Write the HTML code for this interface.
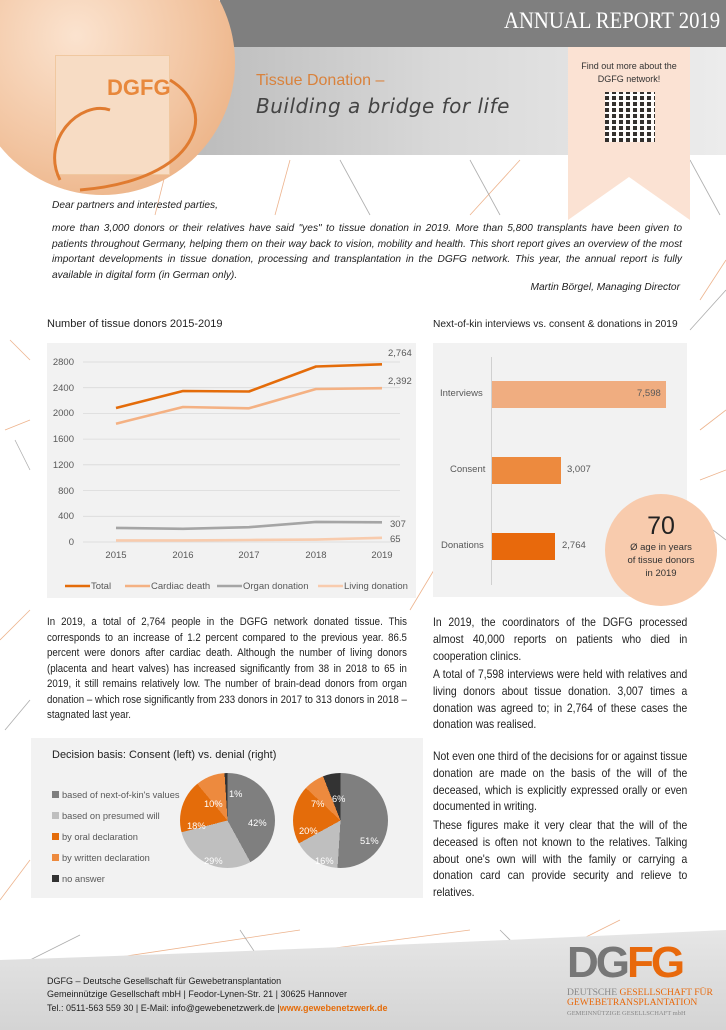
<!DOCTYPE html>
<html><head><meta charset="utf-8"><style>
*{margin:0;padding:0;box-sizing:border-box}
body{width:726px;height:1030px;position:relative;overflow:hidden;background:#fff;font-family:"Liberation Sans",sans-serif;color:#222}
.a{position:absolute}
.p{font-size:11px;line-height:15.5px;text-align:justify;color:#222;transform:scaleX(0.88);transform-origin:left top}
.r{font-size:11.8px;line-height:16.8px}
.it{font-style:italic;font-size:10.2px;line-height:15.5px;color:#222}
.t{font-size:11px;color:#222;white-space:nowrap}
</style></head><body>
<svg class="a" style="left:0;top:0" width="726" height="1030">
<g stroke="#e8a070" stroke-width="0.8" fill="none" opacity="0.8">
<path d="M170 155 L155 215"/><path d="M290 160 L275 215"/><path d="M520 160 L470 215"/><path d="M700 300 L726 260"/><path d="M700 430 L726 410"/><path d="M10 340 L30 360"/><path d="M5 430 L30 420"/><path d="M0 640 L30 610"/><path d="M410 610 L440 560"/><path d="M0 900 L30 860"/><path d="M100 960 L300 930"/><path d="M320 950 L470 930"/><path d="M560 950 L620 920"/><path d="M700 480 L726 470"/>
</g>
<g stroke="#999" stroke-width="0.8" fill="none" opacity="0.8">
<path d="M340 160 L370 215"/><path d="M470 160 L500 215"/><path d="M690 160 L720 215"/><path d="M690 330 L726 290"/><path d="M15 440 L30 470"/><path d="M700 520 L726 540"/><path d="M30 960 L80 935"/><path d="M240 930 L260 960"/><path d="M500 930 L530 960"/><path d="M5 730 L30 700"/>
</g>
</svg>
<div class="a" style="left:160px;top:47px;width:566px;height:108px;background:linear-gradient(90deg,#b8b8b8,#d9d9d9 50%,#ececec)"></div>
<div class="a" style="left:220px;top:0;width:506px;height:47px;background:#7f7f7f"></div>
<div class="a" style="right:6px;top:8px;font-family:'Liberation Serif',serif;font-size:23px;color:#fff;white-space:nowrap;transform:scaleX(0.9);transform-origin:right top">ANNUAL REPORT 2019</div>
<div class="a" style="left:-30px;top:-70px;width:265px;height:265px;border-radius:50%;background:radial-gradient(circle at 40% 40%,#fbe3cf,#f2c4a0 55%,#e8a673)"></div>
<div class="a" style="left:55px;top:55px;width:115px;height:120px;background:#f7dcc4;border:1px solid #f0c8a0"></div>
<svg class="a" style="left:20px;top:40px" width="200" height="170"><path d="M40 140 C20 100 60 60 90 70 M150 40 C200 70 180 140 60 150" stroke="#e07b30" stroke-width="3" fill="none"/></svg>
<div class="a" style="left:107px;top:75px;font-size:22px;font-weight:bold;color:#e8883c">DGFG</div>
<div class="a" style="left:256px;top:72px;font-size:16px;color:#d9823c">Tissue Donation –</div>
<div class="a" style="left:256px;top:94px;font-size:20px;font-style:italic;font-family:'DejaVu Sans',sans-serif;color:#444;letter-spacing:0.5px">Building a bridge for life</div>
<svg class="a" style="left:568px;top:47px" width="122" height="173"><polygon points="0,0 122,0 122,173 61,130 0,173" fill="#fbe2d3"/></svg>
<div class="a" style="left:568px;top:60px;width:122px;text-align:center;font-size:9px;line-height:13px;color:#333">Find out more about the<br>DGFG network!</div>
<div class="a" style="left:605px;top:92px;width:50px;height:50px;background:repeating-linear-gradient(90deg,#111 0 4px,#fff 4px 7px),#111;opacity:.85"></div>
<div class="a" style="left:605px;top:92px;width:50px;height:50px;background:repeating-linear-gradient(0deg,transparent 0 4px,#fff 4px 6px)"></div>
<div class="a it" style="left:52px;top:198px">Dear partners and interested parties,</div>
<div class="a it" style="left:52px;top:221px;width:630px;text-align:justify">more than 3,000 donors or their relatives have said "yes" to tissue donation in 2019. More than 5,800 transplants have been given to patients throughout Germany, helping them on their way back to vision, mobility and health. This short report gives an overview of the most important developments in tissue donation, processing and transplantation in the DGFG network. This year, the annual report is fully available in digital form (in German only).</div>
<div class="a it" style="left:400px;top:280px;width:280px;text-align:right">Martin Börgel, Managing Director</div>
<div class="a t" style="left:47px;top:318px">Number of tissue donors 2015-2019</div>
<div class="a" style="left:47px;top:343px;width:369px;height:255px;background:#f2f2f2"></div>
<svg class="a" style="left:0;top:0" width="726" height="1030" font-family="Liberation Sans" font-size="9.5" fill="#595959">
<g stroke="#d9d9d9" stroke-width="0.8"><path d="M83 542H400M83 516.3H400M83 490.6H400M83 464.8H400M83 439.1H400M83 413.4H400M83 387.7H400M83 362H400"/></g>
<g text-anchor="end"><text x="74" y="545">0</text><text x="74" y="519">400</text><text x="74" y="494">800</text><text x="74" y="468">1200</text><text x="74" y="442">1600</text><text x="74" y="416">2000</text><text x="74" y="391">2400</text><text x="74" y="365">2800</text></g>
<g text-anchor="middle"><text x="116" y="558">2015</text><text x="183" y="558">2016</text><text x="249" y="558">2017</text><text x="316" y="558">2018</text><text x="382" y="558">2019</text></g>
<g fill="none" stroke-width="2.6" stroke-linejoin="round">
<polyline stroke="#f8cbad" points="116,540.4 183,540.4 249,540 316,539.6 382,537.8"/>
<polyline stroke="#a5a5a5" points="116,527.9 183,528.8 249,527.2 316,521.9 382,522.3"/>
<polyline stroke="#f4b183" points="116,423.7 183,407 249,408.3 316,389 382,388.2"/>
<polyline stroke="#e46c0a" points="116,408 183,391 249,391.5 316,366.5 382,364.3"/>
</g>
<text x="388" y="356">2,764</text><text x="388" y="384">2,392</text><text x="390" y="527">307</text><text x="390" y="542">65</text>
<g stroke-width="2.6"><path d="M65 586H90" stroke="#e46c0a"/><path d="M125 586H150" stroke="#f4b183"/><path d="M217 586H242" stroke="#a5a5a5"/><path d="M318 586H343" stroke="#f8cbad"/></g>
<text x="91" y="589">Total</text><text x="151" y="589">Cardiac death</text><text x="243" y="589">Organ donation</text><text x="344" y="589">Living donation</text>
</svg>
<div class="a t" style="left:433px;top:319px;font-size:10.2px">Next-of-kin interviews vs. consent &amp; donations in 2019</div>
<div class="a" style="left:433px;top:343px;width:254px;height:254px;background:#f2f2f2"></div>
<div class="a" style="left:491px;top:357px;width:1px;height:228px;background:#d0d0d0"></div>
<div class="a" style="left:492px;top:381px;width:174px;height:27px;background:#f0ad80"></div>
<div class="a" style="left:492px;top:457px;width:69px;height:27px;background:#ed8a3e"></div>
<div class="a" style="left:492px;top:533px;width:63px;height:27px;background:#e8690c"></div>
<div class="a" style="font-size:9.5px;color:#595959;left:440px;top:388px">Interviews</div>
<div class="a" style="font-size:9.5px;color:#595959;left:450px;top:464px">Consent</div>
<div class="a" style="font-size:9.5px;color:#595959;left:441px;top:540px">Donations</div>
<div class="a" style="font-size:9.5px;color:#595959;left:637px;top:388px">7,598</div>
<div class="a" style="font-size:9.5px;color:#595959;left:567px;top:464px">3,007</div>
<div class="a" style="font-size:9.5px;color:#595959;left:562px;top:540px">2,764</div>
<div class="a" style="left:605px;top:494px;width:112px;height:112px;border-radius:50%;background:#f8cbad;text-align:center">
<div style="font-size:25px;color:#222;margin-top:18px">70</div>
<div style="font-size:9.5px;line-height:13px;color:#333">Ø age in years<br>of tissue donors<br>in 2019</div></div>
<div class="a p" style="left:47px;top:615px;width:409px">In 2019, a total of 2,764 people in the DGFG network donated tissue. This corresponds to an increase of 1.2 percent compared to the previous year. 86.5 percent were donors after cardiac death. Although the number of living donors (placenta and heart valves) has increased significantly from 38 in 2018 to 65 in 2019, it still remains relatively low. The number of brain-dead donors from organ donation – which rose significantly from 233 donors in 2017 to 313 donors in 2018 – stagnated last year.</div>
<div class="a p r" style="left:433px;top:614px;width:289px">In 2019, the coordinators of the DGFG processed almost 40,000 reports on patients who died in cooperation clinics.</div>
<div class="a p r" style="left:433px;top:666px;width:289px">A total of 7,598 interviews were held with relatives and living donors about tissue donation. 3,007 times a donation was agreed to; in 2,764 of these cases the donation was realised.</div>
<div class="a p r" style="left:433px;top:748px;width:289px">Not even one third of the decisions for or against tissue donation are made on the basis of the will of the deceased, which is explicitly expressed orally or even documented in writing.</div>
<div class="a p r" style="left:433px;top:817px;width:289px">These figures make it very clear that the will of the deceased is often not known to the relatives. Talking about one's own will with the family or carrying a donation card can provide security and relieve to relatives.</div>
<div class="a" style="left:31px;top:738px;width:392px;height:160px;background:#f2f2f2"></div>
<div class="a t" style="left:52px;top:749px">Decision basis: Consent (left) vs. denial (right)</div>
<div class="a" style="left:52px;top:785px;font-size:9.3px;line-height:21px;color:#595959">
<div><span style="display:inline-block;width:7px;height:7px;background:#7f7f7f;margin-right:3px"></span>based of next-of-kin's values</div>
<div><span style="display:inline-block;width:7px;height:7px;background:#bfbfbf;margin-right:3px"></span>based on presumed will</div>
<div><span style="display:inline-block;width:7px;height:7px;background:#e46c0a;margin-right:3px"></span>by oral declaration</div>
<div><span style="display:inline-block;width:7px;height:7px;background:#ed8a3e;margin-right:3px"></span>by written declaration</div>
<div><span style="display:inline-block;width:7px;height:7px;background:#333;margin-right:3px"></span>no answer</div></div>
<div class="a" style="left:180px;top:773px;width:95px;height:95px;border-radius:50%;background:conic-gradient(#7f7f7f 0 151.2deg,#bfbfbf 151.2deg 255.6deg,#e46c0a 255.6deg 320.4deg,#ed8a3e 320.4deg 356.4deg,#333 356.4deg)"></div>
<div class="a" style="left:293px;top:773px;width:95px;height:95px;border-radius:50%;background:conic-gradient(#7f7f7f 0 183.6deg,#bfbfbf 183.6deg 241.2deg,#e46c0a 241.2deg 313.2deg,#ed8a3e 313.2deg 338.4deg,#333 338.4deg)"></div>
<div class="a" style="font-size:9.3px;color:#fff;left:248px;top:818px">42%</div>
<div class="a" style="font-size:9.3px;color:#fff;left:204px;top:856px">29%</div>
<div class="a" style="font-size:9.3px;color:#fff;left:187px;top:821px">18%</div>
<div class="a" style="font-size:9.3px;color:#fff;left:204px;top:799px">10%</div>
<div class="a" style="font-size:9.3px;color:#fff;left:229px;top:789px">1%</div>
<div class="a" style="font-size:9.3px;color:#fff;left:360px;top:836px">51%</div>
<div class="a" style="font-size:9.3px;color:#fff;left:315px;top:856px">16%</div>
<div class="a" style="font-size:9.3px;color:#fff;left:299px;top:826px">20%</div>
<div class="a" style="font-size:9.3px;color:#fff;left:311px;top:799px">7%</div>
<div class="a" style="font-size:9.3px;color:#fff;left:332px;top:794px">6%</div>
<svg class="a" style="left:0;top:930px" width="726" height="100"><defs><linearGradient id="g" x1="0" x2="0" y1="0" y2="1"><stop offset="0" stop-color="#e6e6e6"/><stop offset="1" stop-color="#d4d4d4"/></linearGradient></defs><path d="M0 30 Q300 20 726 0 V100 H0Z" fill="url(#g)"/></svg>
<div class="a" style="left:47px;top:975px;font-size:9px;line-height:13.3px;color:#222">DGFG – Deutsche Gesellschaft für Gewebetransplantation<br>Gemeinnützige Gesellschaft mbH | Feodor-Lynen-Str. 21 | 30625 Hannover<br>Tel.: 0511-563 559 30 | E-Mail: info@gewebenetzwerk.de |<b style="color:#e46c0a">www.gewebenetzwerk.de</b></div>
<div class="a" style="left:567px;top:938px;font-size:44px;font-weight:bold;letter-spacing:-3px;line-height:50px"><span style="color:#777">DG</span><span style="color:#e8690c">FG</span></div>
<div class="a" style="left:567px;top:988px;font-family:'Liberation Serif',serif;font-size:9.6px;line-height:10px;color:#e8690c;white-space:nowrap"><span style="color:#888">DEUTSCHE</span> GESELLSCHAFT FÜR<br>GEWEBETRANSPLANTATION</div>
<div class="a" style="left:567px;top:1010px;font-family:'Liberation Serif',serif;font-size:6.5px;color:#888">GEMEINNÜTZIGE GESELLSCHAFT mbH</div>
</body></html>
